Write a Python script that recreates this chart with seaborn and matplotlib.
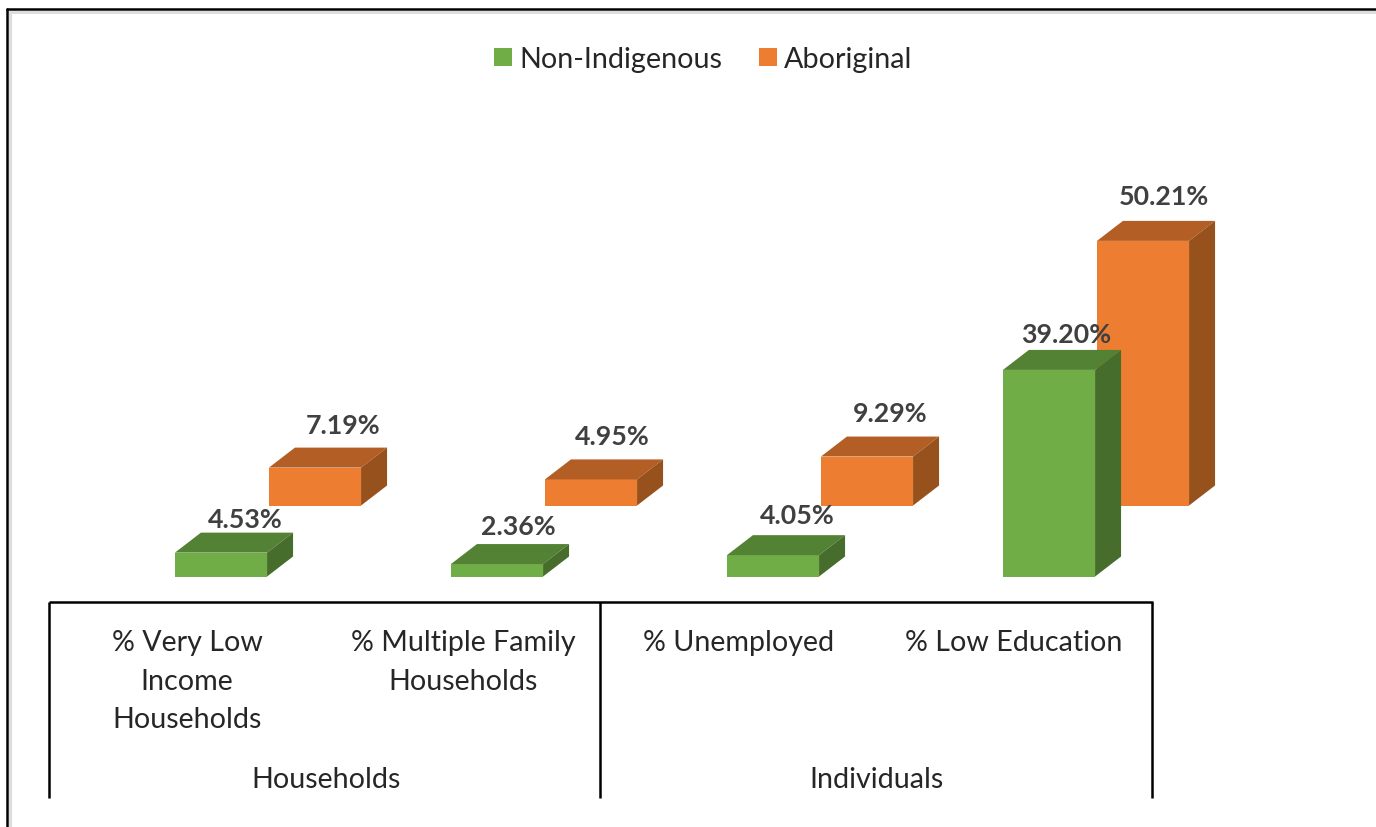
import pandas as pd
import seaborn as sns
import matplotlib.pyplot as plt
from matplotlib.lines import Line2D

# values
categories = ['% Very Low Income Households', '% Multiple Family Households', '% Unemployed', '% Low Education']
tick_labels = ['% Very Low\nIncome\nHouseholds', '% Multiple Family\nHouseholds', '% Unemployed', '% Low Education']
groups = ['Households', 'Individuals']
series_names = ['Non-Indigenous', 'Aboriginal']
non_indigenous = [4.53, 2.36, 4.05, 39.20]
aboriginal = [7.19, 4.95, 9.29, 50.21]

sns.set_theme(style='white')
plt.rcParams['font.family'] = ['Lato', 'DejaVu Sans']

W, H = 1376, 828
PX_PER_CAT = 276
PX_PER_PCT = 5.27
X0_PX, Y0_PX = 268, 576
DX, DY = 26 / PX_PER_CAT, 20 / PX_PER_PCT  # depth of the fake 3d


def px_x(px):
    return (px - X0_PX) / PX_PER_CAT


def px_y(px):
    return (Y0_PX - px) / PX_PER_PCT


df = pd.DataFrame({
    'category': categories * 2,
    'series': [series_names[0]] * 4 + [series_names[1]] * 4,
    'value': non_indigenous + aboriginal,
})

colors = {'Non-Indigenous': '#70AD47', 'Aboriginal': '#ED7D31'}
top_colors = {'Non-Indigenous': '#548235', 'Aboriginal': '#B35E24'}
side_colors = {'Non-Indigenous': '#466D2B', 'Aboriginal': '#97511C'}

fig = plt.figure(figsize=(W / 100, H / 100), dpi=100)
ax = fig.add_axes([0, 0, 1, 1])


def draw_series(name, bottom, z):
    n_before = len(ax.patches)
    sns.barplot(data=df[df['series'] == name], x='category', y='value', hue='series',
                order=categories, hue_order=series_names, palette=colors, saturation=1,
                width=188 / PX_PER_CAT, gap=0.02, dodge=True, bottom=bottom, linewidth=0,
                errorbar=None, legend=False, zorder=z, ax=ax)
    bars = ax.patches[n_before:]
    for b in bars:
        x0, y0 = b.get_x(), b.get_y()
        x1, y1 = x0 + b.get_width(), y0 + b.get_height()
        ax.fill([x0, x0 + DX, x1 + DX, x1], [y1, y1 + DY, y1 + DY, y1],
                color=top_colors[name], lw=0, zorder=z)
        ax.fill([x1, x1 + DX, x1 + DX, x1], [y0, y0 + DY, y1 + DY, y1],
                color=side_colors[name], lw=0, zorder=z)
    return bars


# aboriginal row sits behind and higher up, like excel does it
back_bars = draw_series('Aboriginal', 71 / PX_PER_PCT, 2)
front_bars = draw_series('Non-Indigenous', 0, 3)

ax.set_xlim(px_x(0), px_x(W))
ax.set_ylim(px_y(H - 1.5), px_y(-1.5))
ax.set_xlabel('')
ax.set_ylabel('')
ax.set_xticks([])
ax.set_yticks([])
for s in ax.spines.values():
    s.set_visible(False)

# data labels, nudges in px because excel placed them unevenly
front_nudge = [(24, 14), (21, 18), (24, 20), (17, 16)]
back_nudge = [(28, 23), (21, 23), (23, 24), (21, 25)]
for bars, vals, nudge in [(back_bars, aboriginal, back_nudge), (front_bars, non_indigenous, front_nudge)]:
    for b, v, (nx, ny) in zip(bars, vals, nudge):
        ax.text(b.get_x() + b.get_width() / 2 + nx / PX_PER_CAT,
                b.get_y() + b.get_height() + DY + ny / PX_PER_PCT,
                f'{v:.2f}%', ha='center', va='center', fontsize=19.3, fontweight='bold',
                color='#404040', zorder=5)

# category axis drawn as bracket table
line_kw = dict(color='black', lw=1.8, solid_capstyle='butt', zorder=4)
ax.plot([px_x(49), px_x(1153)], [px_y(601), px_y(601)], **line_kw)
for xp in [49, 600, 1152]:
    ax.plot([px_x(xp), px_x(xp)], [px_y(601), px_y(797)], **line_kw)

for xp, lab in zip([187, 463, 739, 1014], tick_labels):
    ax.text(px_x(xp), px_y(629), lab, ha='center', va='top', fontsize=20.6, color='#262626',
            linespacing=1.58)
for xp, lab in zip([326, 877], groups):
    ax.text(px_x(xp), px_y(779), lab, ha='center', va='center', fontsize=20.6, color='#262626')

# picture frame (top and left only, rest is cut off)
ax.plot([px_x(10), px_x(W)], [px_y(11), px_y(11)], color='#dddddd', lw=2.2, zorder=1)
ax.plot([px_x(10), px_x(10)], [px_y(11), px_y(H + 2)], color='#dddddd', lw=2.2, zorder=1)
ax.plot([px_x(7), px_x(W)], [px_y(8.5), px_y(8.5)], color='black', lw=1.8, zorder=6)
ax.plot([px_x(7), px_x(7)], [px_y(8.5), px_y(H + 2)], color='black', lw=1.8, zorder=6)

handles = [Line2D([], [], ls='', marker='s', ms=12.6, mew=0, color=colors[n]) for n in series_names]
ax.legend(handles, series_names, ncol=2, loc='center', bbox_to_anchor=(699 / W, 1 - 60 / H),
          bbox_transform=fig.transFigure, frameon=False, fontsize=20.7, labelcolor='#262626',
          handletextpad=-0.03, columnspacing=1.0, handlelength=1.2, borderpad=0)

fig.savefig('out.png', dpi=100)
